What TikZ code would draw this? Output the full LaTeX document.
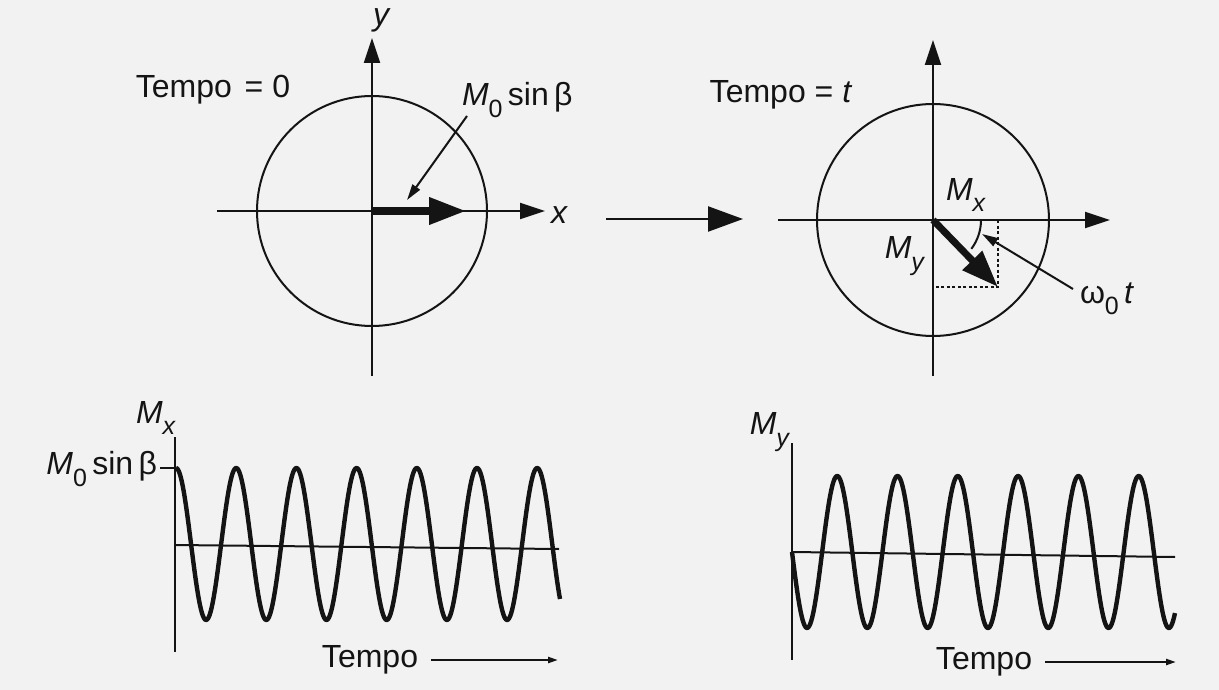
\documentclass[tikz,border=0pt]{standalone}
\usepackage{fontspec}
\setmainfont{Liberation Sans}
\usetikzlibrary{arrows.meta,positioning,calc}

\definecolor{paper}{RGB}{242,242,242}
\definecolor{ink}{RGB}{20,20,20}
% lowered subscript in text font
\newcommand{\lsub}[1]{\raisebox{-0.36em}{\fontsize{25}{25}\selectfont #1}}

\begin{document}
\begin{tikzpicture}[
    x=1pt, y=-1pt,
    line width=2pt, color=ink,
    lbl/.style={
        font=\fontsize{32}{38}\selectfont, text=ink, inner sep=0pt
    },
    % coordinate axes
    axis/.style={
        -{Triangle[length=25pt,width=16pt]}, line width=2pt, ink
    },
    bigarrow/.style={
        -{Triangle[length=35pt,width=25pt]}, line width=2.2pt, ink
    },
    % magnetisation vector
    vec/.style={
        -{Triangle[length=37pt,width=26pt]}, line width=7pt, ink
    },
    leader/.style={
        -{Triangle[length=16pt,width=9pt]}, line width=2pt, ink
    },
    timearrow/.style={
        -{Triangle[length=10pt,width=6pt]}, line width=2.2pt, ink
    },
    wave/.style={
        line width=4.4pt, ink, line join=round
    },
    proj/.style={
        dashed, dash pattern=on 3pt off 2.5pt, line width=2pt, ink
    }
]

% === Background ===
\fill[paper] (0,0) rectangle (1219,690);
\useasboundingbox (0,0) rectangle (1219,690);

% ============================================================
% === Tempo = 0
% ============================================================
\coordinate (O1) at (372,211);
\node[lbl] (T0) at (213,90) {Tempo\hspace{4pt} = 0};
\draw (O1) circle[radius=115];

\coordinate (X1s) at (217,211);
\coordinate (X1e) at (545,211);
\draw[axis] (X1s) -- (X1e);
\node[lbl, anchor=west] (X1) at (550,215) {\textit{x}};

\coordinate (Y1s) at (372,376);
\coordinate (Y1e) at (372,38);
\draw[axis] (Y1s) -- (Y1e);
\node[lbl, anchor=base] (Y1) at (382,26) {\textit{y}};

% M0 along x
\coordinate (M0tip) at (466,211);
\draw[vec] (O1) -- (M0tip);

\node[lbl, anchor=west] (M0) at (461,100) {\textit{M}\lsub{0}\,sin\,β};
\coordinate (M0lead) at (467,116);
\coordinate (M0pt) at (407,200);
\draw[leader] (M0lead) -- (M0pt);

% === Transition arrow ===
\coordinate (Ps) at (606,219);
\coordinate (Pe) at (743,219);
\draw[bigarrow] (Ps) -- (Pe);

% ============================================================
% === Tempo = t
% ============================================================
\coordinate (O2) at (933,220);
\node[lbl] (Tt) at (781,95) {Tempo = \textit{t}};
\draw (O2) circle[radius=116];

\coordinate (X2s) at (778,220);
\coordinate (X2e) at (1110,220);
\draw[axis] (X2s) -- (X2e);

\coordinate (Y2s) at (933,376);
\coordinate (Y2e) at (933,40);
\draw[axis] (Y2s) -- (Y2e);

% projections
\coordinate (Vt) at (998,287);
\coordinate (Px) at (998,220);
\coordinate (Py) at (933,287);
\draw[proj] (Px) -- (Vt) -- (Py);
\draw[vec] (O2) -- (Vt);

% angle w0 t
\draw (O2) ++(48,0) arc[start angle=0, end angle=37, radius=48];
\coordinate (Wlead) at (1073,289);
\coordinate (Wpt) at (982,234);
\draw[leader] (Wlead) -- (Wpt);

\node[lbl] (Mx2) at (966,195) {\textit{M}\lsub{\textit{x}}};
\node[lbl] (My2) at (905,256) {\textit{M}\lsub{\textit{y}}};
\node[lbl, anchor=west] (W) at (1079,299) {ω\lsub{0}\,\textit{t}};

% ============================================================
% === Mx(t)
% ============================================================
\coordinate (A3t) at (175,437);
\coordinate (A3b) at (175,652);
\draw (A3t) -- (A3b);
\node[lbl] (Mx3) at (156,418) {\textit{M}\lsub{\textit{x}}};

\coordinate (Tk) at (160,468);
\coordinate (Tk0) at (175,468);
\draw (Tk) -- (Tk0);
\node[lbl, anchor=east] (Amp) at (158,469) {\textit{M}\lsub{0}\,sin\,β};

\coordinate (Z3s) at (175,545);
\coordinate (Z3e) at (559,549);
\draw (Z3s) -- (Z3e);
\draw[wave] plot[domain=0:384, samples=400] ({176+\x},{544-76*cos(5.9801*\x)});

\node[lbl] (Tl) at (370,660) {Tempo};
\coordinate (Tle) at (558,656);
\draw[timearrow] ([xshift=12pt]Tl.east) -- (Tl.east -| Tle);

% ============================================================
% === My(t)
% ============================================================
\coordinate (A4t) at (792,443);
\coordinate (A4b) at (792,660);
\draw (A4t) -- (A4b);
\node[lbl] (My4) at (770,432) {\textit{M}\lsub{\textit{y}}};

\coordinate (Z4s) at (792,552);
\coordinate (Z4e) at (1175,557);
\draw (Z4s) -- (Z4e);
\draw[wave] plot[domain=0:383, samples=400] ({792+\x},{552+76*sin(5.9701*\x)});

\node[lbl] (Tr) at (984,662) {Tempo};
\coordinate (Tre) at (1176,662);
\draw[timearrow] ([xshift=12pt]Tr.east) -- (Tr.east -| Tre);

\end{tikzpicture}
\end{document}
